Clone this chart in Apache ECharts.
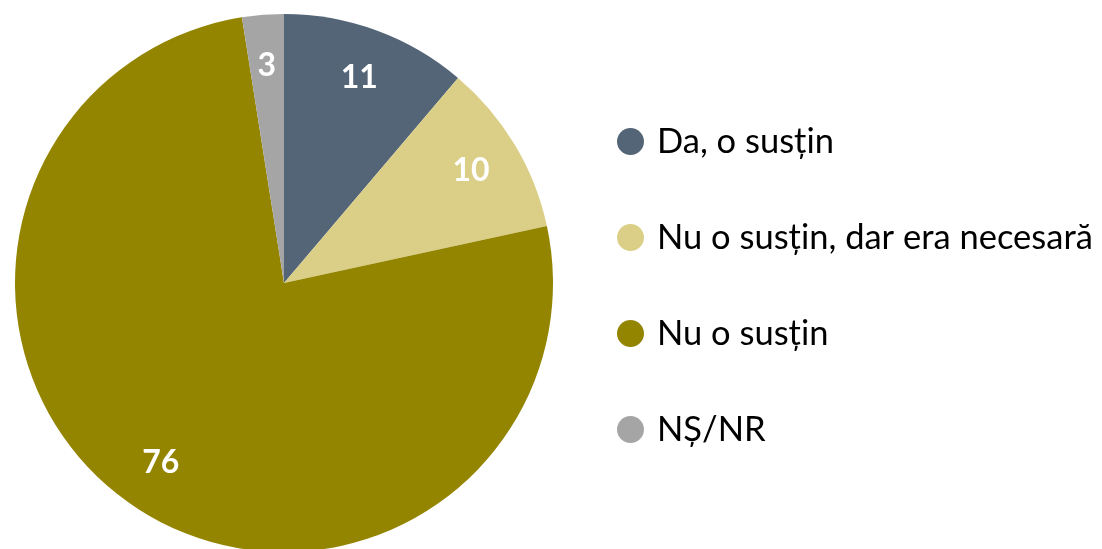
<!DOCTYPE html>
<html>
<head>
<meta charset="utf-8">
<script src="https://cdn.jsdelivr.net/npm/echarts@6/dist/echarts.min.js"></script>
<style>
  html, body { margin: 0; padding: 0; background: #fff; }
  #chart { width: 1102px; height: 549px; }
</style>
</head>
<body>
<div id="chart"></div>
<script>
  // answer categories and shares (%)
  var categories = ['Da, o susțin', 'Nu o susțin, dar era necesară', 'Nu o susțin', 'NȘ/NR']
  var values = [11.2, 10.4, 75.9, 2.5]
  var colors = ['#546577', '#DBCF88', '#938500', '#A5A5A5']

  var center = [284, 283]
  var radius = 269

  var pieData = categories.map(function(name, i) {
    return {name: name, value: values[i], itemStyle: {color: colors[i]}}
  })

  // label ring: transparent, only used to put labels at ~0.8 of the radius
  var labelData = categories.map(function(name, i) {
    return {name: name, value: values[i]}
  })

  var chart = echarts.init(document.getElementById('chart'))
  var option = {
    animation: false,
    legend: {
      orient: 'vertical',
      left: 617,
      top: 124,
      padding: 0,
      icon: 'circle',
      itemWidth: 27,
      itemHeight: 27,
      itemGap: 61,
      data: categories,
      textStyle: {
        fontFamily: 'Lato',
        fontSize: 34.5,
        color: '#000',
        lineHeight: 27,
        padding: [0, 0, 0, 8]
      }
    },
    series: [
      {
        type: 'pie',
        center: center,
        radius: radius,
        startAngle: 90,
        clockwise: true,
        label: {show: false},
        labelLine: {show: false},
        itemStyle: {borderWidth: 0},
        emphasis: {disabled: true},
        data: pieData
      },
      {
        type: 'pie',
        center: center,
        radius: [radius * 0.6, radius],
        startAngle: 90,
        clockwise: true,
        silent: true,
        legendHoverLink: false,
        itemStyle: {color: 'rgba(0,0,0,0)', borderWidth: 0},
        label: {
          show: true,
          position: 'inside',
          color: '#fff',
          fontFamily: 'Lato',
          fontWeight: 'bold',
          fontSize: 32,
          formatter: function(p) {
            return Math.round(p.value)
          }
        },
        labelLine: {show: false},
        data: labelData
      }
    ]
  }
  chart.setOption(option)
</script>
</body>
</html>
